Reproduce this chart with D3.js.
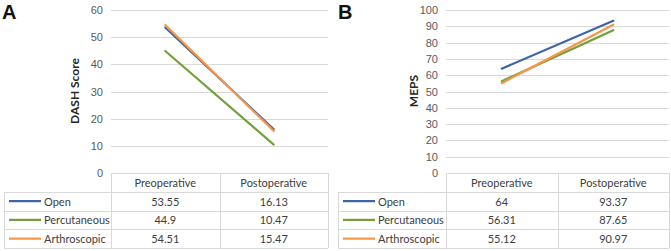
<!DOCTYPE html>
<html>
<head>
<meta charset="utf-8">
<script src="https://cdn.jsdelivr.net/npm/d3@7"></script>
<style>
  body { margin: 0; background: #fff; }
  svg { display: block; font-family: Lato, "Open Sans", sans-serif; }
  .tick text { fill: #595959; font-size: 11px; }
  .cell { fill: #404040; font-size: 11px; }
</style>
</head>
<body>
<div id="chart"></div>
<script>
// data
const categories = ["Preoperative", "Postoperative"];
const seriesNames = ["Open", "Percutaneous", "Arthroscopic"];
const seriesColors = ["#3D65A6", "#72A03C", "#F79646"];

const dashValues = [
  [53.55, 16.13],
  [44.9, 10.47],
  [54.51, 15.47],
];
const dashTicks = [0, 10, 20, 30, 40, 50, 60];

const mepsValues = [
  [64, 93.37],
  [56.31, 87.65],
  [55.12, 90.97],
];
const mepsTicks = [0, 10, 20, 30, 40, 50, 60, 70, 80, 90, 100];

const width = 671;
const height = 251;

const svg = d3
  .select("#chart")
  .append("svg")
  .attr("width", width)
  .attr("height", height);

drawPanel({
  ox: 0, letter: "A", title: "DASH Score",
  values: dashValues, ticks: dashTicks,
  tableLeft: 4, left: 111, right: 328, titleX: 74,
});
drawPanel({
  ox: 336, letter: "B", title: "MEPS",
  values: mepsValues, ticks: mepsTicks,
  tableLeft: 2, left: 110, right: 333, titleX: 77,
});

function drawPanel(o) {
  const g = svg.append("g").attr("transform", `translate(${o.ox},0)`);
  const top = 10;
  const base = 173;
  const rowH = 18.75;
  const gridColor = "#D9D9D9";

  const x = d3.scaleBand().domain(categories).range([o.left, o.right]);
  const y = d3
    .scaleLinear()
    .domain(d3.extent(o.ticks))
    .range([base, top]);

  // panel letter
  g.append("text")
    .attr("x", 2)
    .attr("y", 19)
    .attr("font-family", "Liberation Sans, Arial, sans-serif")
    .attr("font-weight", "bold")
    .attr("font-size", 20)
    .attr("fill", "#111")
    .text(o.letter);

  // grid
  g.append("g")
    .selectAll("line")
    .data(o.ticks)
    .join("line")
    .attr("x1", o.left)
    .attr("x2", o.right)
    .attr("y1", (d) => Math.round(y(d)) + 0.5)
    .attr("y2", (d) => Math.round(y(d)) + 0.5)
    .attr("stroke", gridColor);

  // y axis
  const yAxis = g
    .append("g")
    .attr("transform", `translate(${o.left - 8},0)`)
    .call(d3.axisLeft(y).tickValues(o.ticks).tickSize(0).tickPadding(0));
  yAxis.select(".domain").remove();
  yAxis.selectAll("text").attr("font-family", null).attr("font-size", null);

  // y title
  g.append("text")
    .attr("transform", `translate(${o.titleX},91)rotate(-90)`)
    .attr("text-anchor", "middle")
    .attr("dominant-baseline", "central")
    .attr("font-weight", "bold")
    .attr("font-size", 12)
    .attr("fill", "#262626")
    .text(o.title);

  // lines
  const line = d3
    .line()
    .x((d, i) => x(categories[i]) + x.bandwidth() / 2)
    .y((d) => y(d));

  g.append("g")
    .selectAll("path")
    .data(o.values)
    .join("path")
    .attr("d", line)
    .attr("fill", "none")
    .attr("stroke", (d, i) => seriesColors[i])
    .attr("stroke-width", 2.2)
    .attr("stroke-linecap", "round");

  // data table
  const gTable = g.append("g");
  const rowsY = d3.range(seriesNames.length + 2).map((i) => base + i * rowH);
  const bottom = rowsY[rowsY.length - 1];

  // horizontal borders
  gTable
    .selectAll("line.h")
    .data(rowsY.slice(1))
    .join("line")
    .attr("class", "h")
    .attr("x1", o.tableLeft)
    .attr("x2", o.right)
    .attr("y1", (d) => Math.round(d) + 0.5)
    .attr("y2", (d) => Math.round(d) + 0.5)
    .attr("stroke", gridColor);

  // vertical borders
  const cols = [o.left, ...categories.map((c) => x(c) + x.bandwidth())];
  gTable
    .selectAll("line.v")
    .data(cols)
    .join("line")
    .attr("class", "v")
    .attr("x1", (d) => Math.round(d) + 0.5)
    .attr("x2", (d) => Math.round(d) + 0.5)
    .attr("y1", base)
    .attr("y2", bottom)
    .attr("stroke", gridColor);
  gTable
    .append("line")
    .attr("x1", o.tableLeft + 0.5)
    .attr("x2", o.tableLeft + 0.5)
    .attr("y1", rowsY[1])
    .attr("y2", bottom)
    .attr("stroke", gridColor);

  // header
  gTable
    .selectAll("text.head")
    .data(categories)
    .join("text")
    .attr("class", "cell head")
    .attr("x", (d) => x(d) + x.bandwidth() / 2)
    .attr("y", base + rowH / 2)
    .attr("text-anchor", "middle")
    .attr("dominant-baseline", "central")
    .text((d) => d);

  // rows
  const row = gTable
    .selectAll("g.row")
    .data(seriesNames)
    .join("g")
    .attr("class", "row")
    .attr("transform", (d, i) => `translate(0,${rowsY[i + 1] + rowH / 2})`);

  row
    .append("line")
    .attr("x1", o.tableLeft + 5)
    .attr("x2", o.tableLeft + 37)
    .attr("stroke", (d, i) => seriesColors[i])
    .attr("stroke-width", 2.2);

  row
    .append("text")
    .attr("class", "cell")
    .attr("x", o.tableLeft + 40)
    .attr("dominant-baseline", "central")
    .text((d) => d);

  row
    .selectAll("text.val")
    .data((d, i) => o.values[i])
    .join("text")
    .attr("class", "cell val")
    .attr("x", (d, j) => x(categories[j]) + x.bandwidth() / 2)
    .attr("text-anchor", "middle")
    .attr("dominant-baseline", "central")
    .text((d) => d);
}
</script>
</body>
</html>
